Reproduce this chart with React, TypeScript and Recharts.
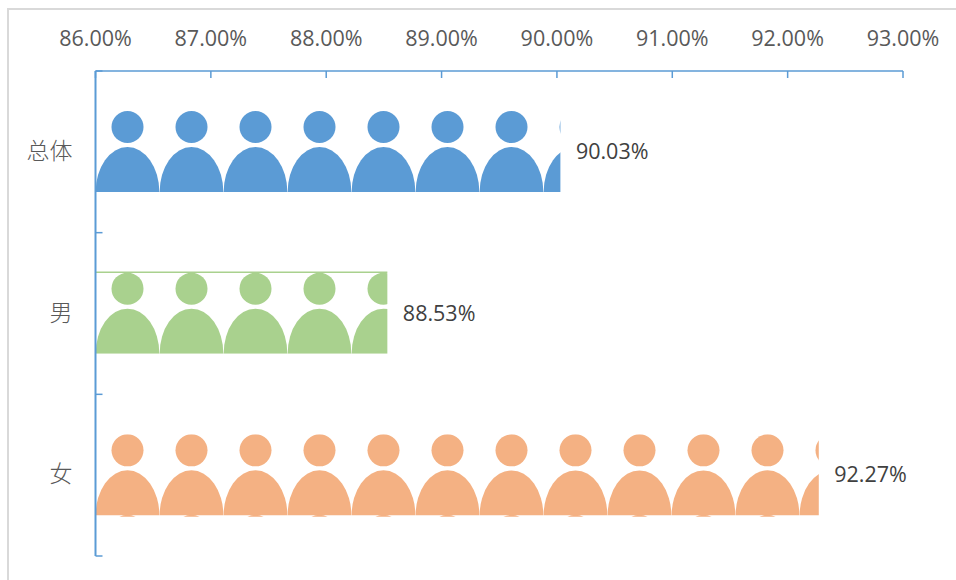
import {BarChart, Bar, XAxis, YAxis, LabelList} from "recharts";

const categories = ["总体", "男", "女"];
const rates = [90.03, 88.53, 92.27];
const colors = ["#5B9BD5", "#A9D18E", "#F4B183"];
const xTicks = [86, 87, 88, 89, 90, 91, 92, 93];

const chartData = categories.map((name, i) => ({name, rate: rates[i], color: colors[i]}));

const AXIS_COLOR = "#5B9BD5";
const ICON_WIDTH = 64;
const FONT = "'Open Sans', 'Noto Sans', sans-serif";

const formatPct = (v: number) => v.toFixed(2) + "%";

// one row of little people, cut off where the bar ends
const PeopleBar = (props: any) => {
    const {x, y, width, height, index, payload} = props;
    const fill = payload.color;
    const bottom = y + height;
    const count = Math.ceil(width / ICON_WIDTH);
    const clipId = "people-clip-" + index;
    // the picture tile wraps: green shows a sliver on top, orange a sliver below
    const overhang = index === 2 ? 1.5 : 0;
    const icons = [];
    for (let i = 0; i < count; i++) {
        const left = x + i * ICON_WIDTH;
        const cx = left + ICON_WIDTH / 2;
        icons.push(
            <g key={i}>
                <circle cx={cx} cy={y + 16} r={16} fill={fill}/>
                <path d={`M${left + 0.15} ${bottom} A${ICON_WIDTH / 2 - 0.15} 45 0 0 1 ${left + ICON_WIDTH - 0.15} ${bottom} Z`} fill={fill}/>
                {overhang > 0 && <circle cx={cx} cy={bottom + 15.5} r={16} fill={fill}/>}
            </g>
        );
    }
    return (
        <g>
            <clipPath id={clipId}>
                <rect x={x} y={y} width={width} height={height + overhang}/>
            </clipPath>
            <g clipPath={`url(#${clipId})`}>{icons}</g>
            {index === 1 && <line x1={x} x2={x + width} y1={y - 0.5} y2={y - 0.5} stroke={fill} strokeWidth={1.5}/>}
        </g>
    );
};

// category label plus the tick marks on the band edges
const CategoryTick = (props: any) => {
    const {x, y, payload, index, bandSize} = props;
    const axisX = x + 8;
    return (
        <g>
            <text x={axisX - 23} y={y} dy={7} textAnchor="end" fontSize={23} fontWeight={300}
                  fontFamily="'Noto Sans CJK SC', sans-serif" fill="#595959">{payload.value}</text>
            <line x1={axisX} x2={axisX + 7} y1={y + bandSize / 2} y2={y + bandSize / 2} stroke={AXIS_COLOR} strokeWidth={1.5}/>
            {index === 0 && <line x1={axisX} x2={axisX + 7} y1={y - bandSize / 2} y2={y - bandSize / 2} stroke={AXIS_COLOR} strokeWidth={1.5}/>}
        </g>
    );
};

const App = () => {
    const plotHeight = 485;
    return (
        <div style={{position: "absolute", left: 0, top: 0, width: 956, height: 580, background: "#fff"}}>
            <div style={{position: "absolute", left: 7, top: 8, width: 949, height: 572, boxSizing: "border-box",
                borderLeft: "2px solid #D9D9D9", borderTop: "2px solid #D9D9D9"}}/>
            <BarChart width={956} height={580} data={chartData} layout="vertical" barSize={81}
                      margin={{top: 0, right: 53, bottom: 24, left: 0}}
                      style={{position: "absolute", left: 0, top: 0}}>
                <XAxis type="number" orientation="top" height={71} domain={[86, 93]} ticks={xTicks}
                       allowDataOverflow interval={0} tickFormatter={formatPct}
                       tickSize={-7} tickMargin={32}
                       axisLine={{stroke: AXIS_COLOR, strokeWidth: 1.5}}
                       tickLine={{stroke: AXIS_COLOR, strokeWidth: 1.5}}
                       tick={{fill: "#595959", fontSize: 21.5, fontFamily: FONT}}/>
                <YAxis type="category" dataKey="name" width={95.5} interval={0} tickLine={false}
                       axisLine={{stroke: AXIS_COLOR, strokeWidth: 2}}
                       tick={<CategoryTick bandSize={plotHeight / categories.length}/>}/>
                <Bar dataKey="rate" shape={<PeopleBar/>} isAnimationActive={false}>
                    <LabelList dataKey="rate" position="right" offset={15.5} formatter={formatPct}
                               fill="#404040" fontSize={21.5} fontFamily={FONT}/>
                </Bar>
            </BarChart>
        </div>
    );
};

export default App;
